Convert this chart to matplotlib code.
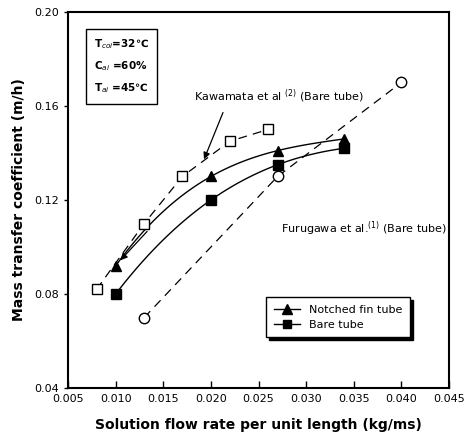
import numpy as np
import matplotlib
matplotlib.use("Agg")
import matplotlib.pyplot as plt

notched_x = [0.010, 0.020, 0.027, 0.034]
notched_y = [0.092, 0.130, 0.141, 0.146]
bare_x = [0.010, 0.020, 0.027, 0.034]
bare_y = [0.080, 0.120, 0.135, 0.142]
kawamata_x = [0.008, 0.013, 0.017, 0.022, 0.026]
kawamata_y = [0.082, 0.110, 0.130, 0.145, 0.150]
furugawa_x = [0.013, 0.027, 0.040]
furugawa_y = [0.070, 0.130, 0.170]

x_ticks = [0.005, 0.010, 0.015, 0.020, 0.025, 0.030, 0.035, 0.040, 0.045]
y_ticks = [0.04, 0.08, 0.12, 0.16, 0.20]

fig = plt.figure(figsize=(4.66, 4.42), dpi=100)
ax = fig.add_axes([0.146, 0.122, 0.8175, 0.851])


def smooth(xs, ys):
    # smooth curve through the measured points
    c = np.polyfit(xs, ys, 3)
    xx = np.linspace(min(xs), max(xs), 100)
    return xx, np.polyval(c, xx)


sx, sy = smooth(notched_x, notched_y)
ax.plot(sx, sy, color='k', lw=1.0)
sx, sy = smooth(bare_x, bare_y)
ax.plot(sx, sy, color='k', lw=1.0)

ax.plot(notched_x, notched_y, '^', color='k', ms=7, zorder=3)
ax.plot(bare_x, bare_y, 's', color='k', ms=6.5, zorder=3)

ax.plot(kawamata_x, kawamata_y, 's--', color='k', lw=0.9, ms=7,
        mfc='white', mec='k', dashes=(7, 5))
ax.plot(furugawa_x, furugawa_y, 'o--', color='k', lw=0.9, ms=7.5,
        mfc='white', mec='k', dashes=(7, 5))

# legend proxies
h1, = ax.plot([], [], '^-', color='k', ms=7, lw=1.0, label='Notched fin tube')
h2, = ax.plot([], [], 's-', color='k', ms=6, lw=1.0, label='Bare tube')
leg = ax.legend(handles=[h1, h2], loc='lower left', bbox_to_anchor=(0.505, 0.12),
                frameon=True, fancybox=False,
                shadow={'color': 'k', 'alpha': 1.0},
                fontsize=8, handlelength=2.4, borderpad=0.7,
                labelspacing=0.4, edgecolor='k')
leg.get_frame().set_linewidth(1.0)

# annotations
ax.text(0.01823, 0.1643, 'Kawamata et al $^{(2)}$ (Bare tube)', fontsize=8,
        va='center', ha='left')
ax.annotate('', xy=(0.01917, 0.1362), xytext=(0.02138, 0.1583),
            arrowprops=dict(arrowstyle='-|>', color='k', lw=0.9,
                            mutation_scale=10))
ax.annotate('', xy=(0.0103, 0.0935), xytext=(0.0135, 0.1075),
            arrowprops=dict(arrowstyle='-|>', color='k', lw=0.9,
                            mutation_scale=10))
ax.text(0.02736, 0.108, 'Furugawa et al.$^{(1)}$ (Bare tube)', fontsize=8,
        va='center', ha='left')

ax.text(0.068, 0.855,
        'T$_{coi}$=32\u2103\n\nC$_{ai}$ =60%\n\nT$_{ai}$ =45\u2103',
        transform=ax.transAxes, fontsize=7.5, fontweight='bold',
        va='center', ha='left', linespacing=0.9,
        bbox=dict(boxstyle='square,pad=0.8', fc='white', ec='k', lw=1.0))

ax.set_xlim(0.005, 0.045)
ax.set_ylim(0.04, 0.20)
ax.set_xticks(x_ticks)
ax.set_xticklabels(['%.3f' % v for v in x_ticks])
ax.set_yticks(y_ticks)
ax.set_yticklabels(['%.2f' % v for v in y_ticks])
ax.tick_params(axis='x', direction='in', length=5, width=1.0, labelsize=8, pad=4)
ax.tick_params(axis='y', direction='out', length=3, width=1.0, labelsize=8)
for s in ax.spines.values():
    s.set_linewidth(1.5)

ax.set_xlabel('Solution flow rate per unit length (kg/ms)', fontsize=10,
              fontweight='bold', labelpad=10)
ax.set_ylabel('Mass transfer coefficient (m/h)', fontsize=10,
              fontweight='bold', labelpad=6)

fig.savefig('out.png', dpi=100)
